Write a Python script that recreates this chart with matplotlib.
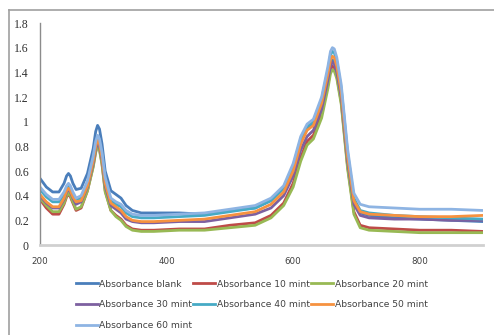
import matplotlib.pyplot as plt
from matplotlib.lines import Line2D

wavelength = [200, 210, 220, 230, 238, 242, 245, 248, 252, 257, 265, 275, 284, 288, 291, 294, 298,
              303, 312, 320, 328, 336, 346, 360, 380, 420, 460, 500, 540, 565, 585, 600, 612, 622,
              632, 645, 655, 659, 662, 665, 669, 676, 686, 696, 706, 720, 760, 800, 850, 900]

abs_blank = [0.54, 0.47, 0.43, 0.43, 0.50, 0.56, 0.58, 0.56, 0.50, 0.45, 0.46, 0.58, 0.78, 0.92, 0.97, 0.94, 0.82,
             0.60, 0.44, 0.41, 0.38, 0.32, 0.28, 0.26, 0.26, 0.26, 0.25, 0.28, 0.30, 0.36, 0.46, 0.62, 0.84, 0.94,
             0.98, 1.15, 1.38, 1.47, 1.50, 1.49, 1.42, 1.20, 0.70, 0.35, 0.26, 0.24, 0.22, 0.21, 0.20, 0.19]
abs_10 = [0.37, 0.30, 0.25, 0.25, 0.33, 0.39, 0.41, 0.39, 0.34, 0.28, 0.30, 0.44, 0.64, 0.76, 0.81, 0.78, 0.66,
          0.44, 0.28, 0.24, 0.21, 0.16, 0.13, 0.12, 0.12, 0.13, 0.13, 0.16, 0.18, 0.24, 0.34, 0.50, 0.71, 0.84,
          0.89, 1.06, 1.30, 1.42, 1.45, 1.44, 1.37, 1.16, 0.64, 0.27, 0.16, 0.14, 0.13, 0.12, 0.12, 0.11]
abs_20 = [0.38, 0.32, 0.27, 0.27, 0.34, 0.40, 0.42, 0.40, 0.35, 0.29, 0.31, 0.44, 0.63, 0.75, 0.80, 0.77, 0.65,
          0.43, 0.28, 0.23, 0.20, 0.15, 0.12, 0.11, 0.11, 0.12, 0.12, 0.14, 0.16, 0.22, 0.32, 0.47, 0.68, 0.81,
          0.86, 1.03, 1.27, 1.39, 1.42, 1.41, 1.35, 1.14, 0.62, 0.25, 0.14, 0.12, 0.11, 0.10, 0.10, 0.10]
abs_30 = [0.40, 0.34, 0.30, 0.30, 0.37, 0.43, 0.45, 0.43, 0.38, 0.33, 0.35, 0.47, 0.66, 0.78, 0.83, 0.80, 0.69,
          0.48, 0.32, 0.29, 0.26, 0.21, 0.19, 0.18, 0.18, 0.19, 0.19, 0.22, 0.25, 0.30, 0.40, 0.56, 0.77, 0.88,
          0.93, 1.10, 1.34, 1.45, 1.48, 1.47, 1.40, 1.20, 0.68, 0.33, 0.24, 0.22, 0.21, 0.21, 0.20, 0.20]
abs_40 = [0.45, 0.39, 0.35, 0.35, 0.41, 0.46, 0.48, 0.46, 0.41, 0.37, 0.38, 0.50, 0.70, 0.82, 0.87, 0.84, 0.73,
          0.53, 0.36, 0.33, 0.31, 0.26, 0.23, 0.22, 0.22, 0.23, 0.24, 0.27, 0.30, 0.36, 0.46, 0.64, 0.86, 0.96,
          1.00, 1.18, 1.42, 1.54, 1.57, 1.56, 1.49, 1.27, 0.75, 0.38, 0.28, 0.26, 0.24, 0.23, 0.22, 0.21]
abs_50 = [0.41, 0.35, 0.31, 0.31, 0.38, 0.44, 0.46, 0.44, 0.39, 0.35, 0.36, 0.48, 0.68, 0.80, 0.85, 0.82, 0.71,
          0.50, 0.34, 0.31, 0.28, 0.23, 0.20, 0.19, 0.19, 0.20, 0.21, 0.24, 0.27, 0.33, 0.43, 0.60, 0.82, 0.93,
          0.97, 1.15, 1.39, 1.50, 1.53, 1.52, 1.45, 1.24, 0.72, 0.36, 0.27, 0.25, 0.24, 0.23, 0.23, 0.24]
abs_60 = [0.47, 0.41, 0.37, 0.37, 0.43, 0.48, 0.50, 0.48, 0.43, 0.38, 0.40, 0.52, 0.72, 0.84, 0.89, 0.86, 0.75,
          0.55, 0.38, 0.35, 0.33, 0.28, 0.25, 0.24, 0.24, 0.25, 0.26, 0.29, 0.32, 0.38, 0.48, 0.66, 0.88, 0.98,
          1.02, 1.20, 1.45, 1.57, 1.60, 1.59, 1.52, 1.30, 0.78, 0.42, 0.33, 0.31, 0.30, 0.29, 0.29, 0.28]

labels = ["Absorbance blank", "Absorbance 10 mint", "Absorbance 20 mint", "Absorbance 30 mint",
          "Absorbance 40 mint", "Absorbance 50 mint", "Absorbance 60 mint"]
series = [abs_blank, abs_10, abs_20, abs_30, abs_40, abs_50, abs_60]
colors = ["#4A7EBB", "#BE4B48", "#98B954", "#7D60A0", "#46AAC5", "#F69240", "#8EB4E3"]

yticks = [0, 0.2, 0.4, 0.6, 0.8, 1, 1.2, 1.4, 1.6, 1.8]
xticks = [200, 400, 600, 800]

fig = plt.figure(figsize=(4.94, 3.35), dpi=100)
ax = fig.add_axes([40 / 494, 90 / 335, 443 / 494, 222 / 335])

for y, lab, c in zip(series, labels, colors):
    ax.plot(wavelength, y, color=c, lw=2.0, label=lab, solid_joinstyle="round")

ax.set_xlim(200, 900)
ax.set_ylim(0, 1.8)
ax.set_yticks(yticks)
ax.set_yticklabels([f"{t:g}" for t in yticks], family="Liberation Serif", fontsize=8.5, color="#303030")
ax.set_xticks(xticks)
ax.set_xticklabels([str(t) for t in xticks], family="DejaVu Sans", fontsize=6.3, color="#404040")
ax.tick_params(axis="y", length=0, pad=8)
ax.tick_params(axis="x", length=0, pad=9)

for s in ["top", "right"]:
    ax.spines[s].set_visible(False)
ax.spines["left"].set_color("#8C8C8C")
ax.spines["left"].set_linewidth(1.0)
ax.spines["bottom"].set_color("#D0D0D0")
ax.spines["bottom"].set_linewidth(2.0)

# outer chart border (only top and left edges visible)
fig.add_artist(Line2D([9 / 494, 1], [1 - 10 / 335, 1 - 10 / 335], color="#A0A0A0", lw=1.2))
fig.add_artist(Line2D([9 / 494, 9 / 494], [0, 1 - 10 / 335], color="#A0A0A0", lw=1.2))

# legend in row-major order
handles, labs = ax.get_legend_handles_labels()
order = [0, 3, 6, 1, 4, 2, 5]
fig.legend([handles[i] for i in order], [labs[i] for i in order], ncol=3,
           loc="upper left", bbox_to_anchor=(72 / 494, 1 - 276 / 335),
           frameon=False, prop={"family": "DejaVu Sans", "size": 6.6},
           labelcolor="#404040", handlelength=2.4, handletextpad=0.15,
           columnspacing=0.15, labelspacing=1.27, borderaxespad=0)

fig.savefig("out.png", dpi=100)
